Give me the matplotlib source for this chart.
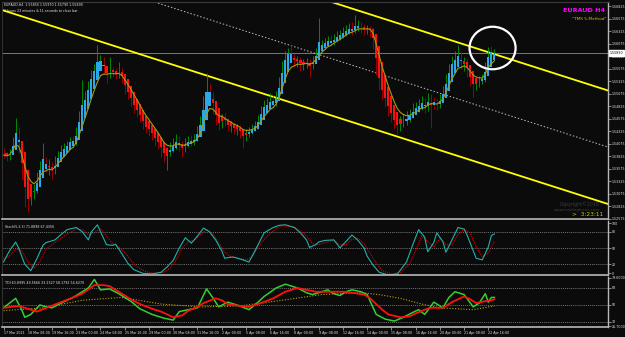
import numpy as np
import pandas as pd
import matplotlib
matplotlib.use("Agg")
import matplotlib.pyplot as plt
import matplotlib.transforms as mtransforms
from matplotlib.patches import Ellipse

# EURAUD H4 bars (open of a bar = close of the previous one)
first_open = 1.5393
closes = [
    1.5385, 1.5379, 1.5391, 1.5415, 1.5435, 1.5395, 1.5345, 1.5305, 1.5295, 1.5305,
    1.5315, 1.5345, 1.5365, 1.5375, 1.5359, 1.5365, 1.5351, 1.5375, 1.5385, 1.5395,
    1.5399, 1.5405, 1.5415, 1.5411, 1.5435, 1.5465, 1.5485, 1.5505, 1.5525, 1.5545,
    1.5559, 1.5571, 1.5575, 1.5555, 1.5545, 1.5551, 1.5549, 1.5545, 1.5551, 1.5535,
    1.5515, 1.5505, 1.5491, 1.5479, 1.5471, 1.5459, 1.5445, 1.5439, 1.5435, 1.5425,
    1.5415, 1.5409, 1.5395, 1.5385, 1.5391, 1.5399, 1.5405, 1.5415, 1.5405, 1.5399,
    1.5409, 1.5415, 1.5411, 1.5419, 1.5435, 1.5455, 1.5495, 1.5515, 1.5505, 1.5475,
    1.5455, 1.5445, 1.5459, 1.5451, 1.5441, 1.5445, 1.5435, 1.5439, 1.5431, 1.5425,
    1.5429, 1.5435, 1.5439, 1.5445, 1.5459, 1.5475, 1.5485, 1.5485, 1.5495, 1.5489,
    1.5505, 1.5535, 1.5565, 1.5585, 1.5591, 1.5579, 1.5571, 1.5575, 1.5565, 1.5569,
    1.5571, 1.5563, 1.5575, 1.5591, 1.5605, 1.5605, 1.5611, 1.5615, 1.5611, 1.5619,
    1.5623, 1.5625, 1.5631, 1.5635, 1.5639, 1.5635, 1.5641, 1.5645, 1.5639, 1.5635,
    1.5639, 1.5635, 1.5605, 1.5555, 1.5525, 1.5505, 1.5495, 1.5475, 1.5465, 1.5451,
    1.5445, 1.5451, 1.5455, 1.5459, 1.5465, 1.5475, 1.5479, 1.5485, 1.5491, 1.5479,
    1.5499, 1.5495, 1.5487, 1.5485, 1.5499, 1.5515, 1.5539, 1.5559, 1.5571, 1.5575,
    1.5585, 1.5565, 1.5571, 1.5551, 1.5535, 1.5525, 1.5531, 1.5535, 1.5539, 1.5565,
    1.5595, 1.5585, 1.5589,
]
highs = [
    1.5399, 1.5391, 1.5397, 1.5421, 1.5459, 1.5441, 1.5401, 1.5351, 1.5317, 1.5319,
    1.5327, 1.5351, 1.5373, 1.5409, 1.5381, 1.5377, 1.5371, 1.5383, 1.5393, 1.5405,
    1.5409, 1.5413, 1.5421, 1.5423, 1.5441, 1.5473, 1.5535, 1.5513, 1.5533, 1.5555,
    1.5567, 1.5605, 1.5585, 1.5581, 1.5563, 1.5581, 1.5561, 1.5559, 1.5571, 1.5559,
    1.5543, 1.5525, 1.5513, 1.5499, 1.5489, 1.5479, 1.5467, 1.5455, 1.5451, 1.5443,
    1.5433, 1.5427, 1.5417, 1.5405, 1.5401, 1.5411, 1.5419, 1.5427, 1.5423, 1.5413,
    1.5419, 1.5423, 1.5425, 1.5427, 1.5443, 1.5463, 1.5503, 1.5549, 1.5527, 1.5511,
    1.5481, 1.5463, 1.5467, 1.5469, 1.5457, 1.5453, 1.5451, 1.5447, 1.5445, 1.5437,
    1.5437, 1.5441, 1.5447, 1.5453, 1.5465, 1.5483, 1.5495, 1.5499, 1.5509, 1.5503,
    1.5513, 1.5541, 1.5573, 1.5593, 1.5599, 1.5605, 1.5587, 1.5583, 1.5581, 1.5577,
    1.5579, 1.5577, 1.5583, 1.5599, 1.5659, 1.5615, 1.5619, 1.5623, 1.5625, 1.5627,
    1.5633, 1.5635, 1.5641, 1.5645, 1.5649, 1.5651, 1.5665, 1.5655, 1.5651, 1.5647,
    1.5645, 1.5643, 1.5641, 1.5611, 1.5561, 1.5533, 1.5513, 1.5501, 1.5483, 1.5471,
    1.5459, 1.5463, 1.5467, 1.5473, 1.5477, 1.5489, 1.5491, 1.5497, 1.5503, 1.5499,
    1.5509, 1.5507, 1.5501, 1.5497, 1.5507, 1.5523, 1.5547, 1.5567, 1.5583, 1.5593,
    1.5605, 1.5591, 1.5581, 1.5577, 1.5557, 1.5543, 1.5539, 1.5543, 1.5547, 1.5571,
    1.5601, 1.5603, 1.5597,
]
lows = [
    1.5379, 1.5373, 1.5375, 1.5387, 1.5409, 1.5389, 1.5337, 1.5281, 1.5271, 1.5285,
    1.5297, 1.5309, 1.5339, 1.5359, 1.5351, 1.5345, 1.5337, 1.5347, 1.5365, 1.5379,
    1.5387, 1.5391, 1.5399, 1.5403, 1.5405, 1.5429, 1.5459, 1.5477, 1.5497, 1.5519,
    1.5537, 1.5551, 1.5561, 1.5547, 1.5529, 1.5539, 1.5541, 1.5537, 1.5539, 1.5529,
    1.5507, 1.5497, 1.5483, 1.5469, 1.5461, 1.5451, 1.5437, 1.5429, 1.5423, 1.5415,
    1.5403, 1.5397, 1.5381, 1.5371, 1.5355, 1.5383, 1.5391, 1.5397, 1.5393, 1.5381,
    1.5391, 1.5401, 1.5403, 1.5405, 1.5413, 1.5429, 1.5449, 1.5487, 1.5495, 1.5467,
    1.5445, 1.5435, 1.5439, 1.5443, 1.5433, 1.5431, 1.5427, 1.5425, 1.5419, 1.5399,
    1.5413, 1.5421, 1.5427, 1.5433, 1.5437, 1.5451, 1.5467, 1.5473, 1.5477, 1.5481,
    1.5483, 1.5497, 1.5527, 1.5557, 1.5577, 1.5571, 1.5561, 1.5561, 1.5553, 1.5555,
    1.5559, 1.5541, 1.5557, 1.5569, 1.5585, 1.5595, 1.5597, 1.5603, 1.5603, 1.5605,
    1.5611, 1.5615, 1.5619, 1.5623, 1.5627, 1.5625, 1.5629, 1.5633, 1.5629, 1.5625,
    1.5627, 1.5621, 1.5597, 1.5545, 1.5515, 1.5495, 1.5481, 1.5463, 1.5451, 1.5437,
    1.5425, 1.5433, 1.5441, 1.5445, 1.5451, 1.5459, 1.5467, 1.5471, 1.5475, 1.5469,
    1.5473, 1.5439, 1.5477, 1.5475, 1.5479, 1.5491, 1.5509, 1.5531, 1.5551, 1.5563,
    1.5567, 1.5557, 1.5553, 1.5541, 1.5523, 1.5501, 1.5515, 1.5521, 1.5527, 1.5531,
    1.5559, 1.5577, 1.5579,
]

date_labels = [
    "17 Mar 2021", "18 Mar 08:00", "19 Mar 16:00", "23 Mar 00:00", "24 Mar 08:00",
    "25 Mar 16:00", "29 Mar 00:00", "30 Mar 08:00", "31 Mar 16:00", "2 Apr 00:00",
    "5 Apr 08:00", "6 Apr 16:00", "8 Apr 00:00", "9 Apr 08:00", "12 Apr 16:00",
    "14 Apr 00:00", "15 Apr 08:00", "16 Apr 16:00", "20 Apr 00:00", "21 Apr 08:00",
    "22 Apr 16:00",
]
date_bars = [0, 8, 16, 24, 32, 40, 48, 56, 64, 72, 80, 88, 96, 104, 112, 120, 128,
             136, 144, 152, 160]

price_ticks = [1.56825, 1.56575, 1.56325, 1.56075, 1.55825, 1.55575, 1.55325,
               1.55075, 1.54825, 1.54575, 1.54325, 1.54075, 1.53825, 1.53575,
               1.53325, 1.53075, 1.52825, 1.52575]

# hand drawn channel (bar index, price)
chan_bars = [0, 200]
chan_upper = [1.5901, 1.5513]
chan_mid = [1.57875, 1.5400]
chan_lower = [1.5674, 1.5286]

# Stochastic(5,3,3) main / signal (bar, value)
stoch_k_bars = [0, 2, 4, 5, 7, 9, 11, 13, 14, 17, 19, 21, 24, 26, 28, 29, 31, 32,
                34, 36, 37, 39, 41, 43, 46, 49, 52, 54, 56, 58, 60, 61, 62, 64, 66,
                68, 70, 72, 73, 75, 76, 79, 81, 83, 86, 89, 91, 93, 96, 98, 100, 101,
                103, 104, 106, 109, 110, 111, 113, 115, 117, 119, 120, 122, 124, 127,
                130, 133, 135, 137, 139, 140, 142, 143, 145, 146, 148, 150, 152, 153,
                155, 156, 158, 159, 160, 161, 162]
stoch_k = [24, 45, 61, 50, 20, 8, 30, 55, 60, 65, 75, 84, 88, 80, 65, 80, 93, 80,
           56, 55, 57, 40, 22, 10, 3, 2, 5, 15, 27, 50, 69, 64, 59, 72, 87,
           80, 65, 45, 31, 33, 33, 28, 24, 45, 78, 88, 92, 93, 88, 78, 65, 51,
           56, 61, 64, 65, 58, 50, 62, 74, 64, 50, 35, 18, 5, 0,
           2, 24, 55, 84, 70, 43, 60, 78, 62, 42, 65, 88, 85, 74,
           45, 31, 28, 40, 52, 73, 76]
stoch_d_bars = [0, 2, 4, 6, 8, 10, 12, 14, 17, 19, 21, 24, 26, 28, 30, 32, 34, 36,
                38, 40, 42, 44, 47, 50, 53, 55, 57, 59, 61, 63, 65, 67, 69, 71, 73,
                75, 77, 80, 82, 84, 87, 90, 92, 95, 98, 100, 102, 104, 106, 109, 111,
                113, 115, 117, 119, 121, 123, 125, 128, 131, 134, 136, 138, 140, 142,
                144, 146, 148, 150, 152, 154, 156, 158, 160, 161, 162]
stoch_d = [30, 35, 48, 45, 25, 12, 25, 48, 60, 68, 76, 85, 84, 75, 78, 86, 72, 58,
           52, 42, 28, 15, 6, 3, 5, 13, 28, 50, 62, 64, 75, 84, 76, 60, 42,
           34, 32, 28, 33, 52, 72, 86, 91, 90, 82, 72, 58, 56, 60, 64, 56,
           56, 66, 68, 58, 40, 22, 8, 2, 5, 20, 45, 72, 62, 52,
           68, 56, 56, 75, 85, 78, 52, 34, 40, 52, 62]
stoch_levels = [80, 50, 20]

# TDI lines (bar, value)
tdi_green_bars = [0, 2, 4, 6, 7, 9, 12, 14, 16, 19, 23, 26, 28, 30, 32, 35, 38, 42,
                  45, 49, 53, 56, 58, 61, 64, 67, 69, 71, 74, 78, 81, 84, 86, 90, 93,
                  97, 100, 102, 105, 107, 109, 111, 113, 115, 118, 120, 123, 126, 129,
                  132, 135, 137, 139, 142, 145, 147, 149, 152, 155, 157, 159, 160, 161,
                  162]
tdi_green = [47, 52, 57, 45, 37, 40, 50, 48, 47, 52, 58, 64, 68, 77, 66, 67, 62, 54,
             46, 40, 36, 34, 43, 45, 47, 67, 58, 48, 53, 49, 45, 53, 59, 68, 72,
             68, 63, 61, 64, 66, 62, 60, 64, 66, 64, 61, 40, 35, 33,
             37, 42, 45, 40, 53, 47, 58, 64, 61, 48, 52, 62, 53, 58,
             58]
tdi_red_bars = [0, 5, 8, 11, 15, 19, 23, 26, 30, 33, 35, 39, 42, 45, 49, 52, 56, 59,
                61, 64, 66, 70, 72, 74, 78, 81, 85, 89, 93, 97, 100, 103, 106, 109,
                112, 115, 119, 121, 123, 125, 127, 131, 134, 136, 139, 141, 145, 148,
                152, 154, 156, 159, 161, 162]
tdi_red = [47, 49, 46, 43, 48, 53, 58, 62, 71, 71, 70, 62, 56, 51, 46, 43, 37, 39,
           44, 48, 52, 57, 55, 51, 49, 48, 52, 57, 64, 68, 66, 64, 64, 64,
           64, 63, 61, 57, 51, 45, 40, 37, 38, 41, 45, 47, 47, 53,
           59, 56, 52, 54, 55, 56]
tdi_base_bars = [0, 13, 26, 39, 52, 65, 78, 92, 105, 118, 124, 131, 138, 144, 155, 162]
tdi_base = [44, 47, 55, 58, 51, 48, 49, 55, 61, 63, 61, 57, 51, 47, 45, 49]
tdi_levels = [68, 50, 32]

BG = "#0b0b0b"
AXC = "#b8b8b8"
TXT = "#e6e6e6"
FS = 2.3

c = pd.Series(closes)
h = pd.Series(highs)
l = pd.Series(lows)
o = c.shift(1).fillna(first_open)
x = np.arange(len(c))

# heiken ashi overlay bodies
ha_close = (o + h + l + c) / 4
ha_open = [float((first_open + c[0]) / 2)]
for i in range(1, len(c)):
    ha_open.append((ha_open[-1] + ha_close[i - 1]) / 2)
ha_open = pd.Series(ha_open)

ma = c.ewm(span=6, adjust=False).mean()

W, H = 625.0, 337.0


def box(x0, y0, x1, y1):
    return [x0 / W, 1 - y1 / H, (x1 - x0) / W, (y1 - y0) / H]


fig = plt.figure(figsize=(6.25, 3.37), dpi=100, facecolor=BG)
ax = fig.add_axes(box(2, 2, 608, 219))
ax_st = fig.add_axes(box(2, 221, 608, 275), sharex=ax)
ax_tdi = fig.add_axes(box(2, 277, 608, 327), sharex=ax)

for a in (ax, ax_st, ax_tdi):
    a.set_facecolor(BG)
    a.yaxis.tick_right()
    a.tick_params(axis="y", colors=AXC, labelcolor=TXT, labelsize=FS,
                  length=2, width=0.5, pad=0.8)
    a.spines["left"].set_color("#3a3a3a")
    a.spines["left"].set_linewidth(0.6)
    a.spines["top"].set_visible(False)
    a.spines["right"].set_color(AXC)
    a.spines["bottom"].set_color(AXC)
    a.spines["right"].set_linewidth(1.0)
    a.spines["bottom"].set_linewidth(1.2)
ax.spines["top"].set_visible(True)
ax.spines["top"].set_color("#3a3a3a")
ax.tick_params(axis="x", length=0, labelbottom=False)
ax_st.tick_params(axis="x", length=0, labelbottom=False)

# ---- main panel
ax.set_xlim(-0.5, 199.5)
ax.set_ylim(1.5257, 1.5691)
ax.set_yticks(price_ticks)
ax.set_yticklabels(["%.5f" % p for p in price_ticks])

ax.plot(chan_bars, chan_lower, color="#ffff00", lw=1.3, zorder=2)
ax.plot(chan_bars, chan_upper, color="#ffff00", lw=1.3, zorder=2)
ax.plot(chan_bars, chan_mid, color="#c0c0c0", lw=0.7, ls=(0, (1.5, 2)), zorder=2)

ax.axhline(c.iloc[-1], color="#8a8a8a", lw=0.6, zorder=1)

wick_col = np.where(c >= o, "#00a000", "#b00000")
ax.vlines(x, l, h, colors=wick_col, lw=0.6, zorder=3)
body_col = np.where(ha_close >= ha_open, "#2aa8e8", "#ff1010")
ax.bar(x, ha_close - ha_open, bottom=ha_open, width=0.7, color=body_col,
       lw=0, zorder=4)
ax.plot(x, ma, color="#a89a10", lw=0.8, zorder=5)

ax.add_patch(Ellipse((161.4, 1.5599), 15.2, 0.0085, fill=False,
                     ec="white", lw=1.6, zorder=6))

trans = mtransforms.blended_transform_factory(ax.transAxes, ax.transData)
ax.text(1.003, c.iloc[-1], "%.5f" % c.iloc[-1], transform=trans, fontsize=FS,
        color="black", va="center", ha="left",
        bbox=dict(boxstyle="square,pad=0.2", fc="white", ec="white"))

fig.text(4 / W, 1 - 5.5 / H, "EURAUD,H4  %.5f %.5f %.5f %.5f"
         % (o.iloc[-1], h.iloc[-1], l.iloc[-1], c.iloc[-1]),
         fontsize=FS, color=TXT, va="center")
fig.text(4 / W, 1 - 11 / H, "3 hours 23 minutes & 11 seconds to close bar",
         fontsize=FS, color=TXT, va="center")
fig.text(605 / W, 1 - 10 / H, "EURAUD H4", fontsize=4.6, color="#ff00ff",
         fontweight="bold", ha="right", va="center")
fig.text(606 / W, 1 - 18.5 / H, '"TMS 5-Method"', fontsize=3.1, color="#e0b020",
         ha="right", va="center")
fig.text(600 / W, 1 - 204 / H, "Copyright\u00a92016", fontsize=3.4, color="#3c3c3c",
         ha="right", va="center")
fig.text(600 / W, 1 - 209.5 / H, "www.tradingforex.com", fontsize=3.0,
         color="#3c3c3c", ha="right", va="center")
fig.text(603 / W, 1 - 215 / H, ">  3:23:11", fontsize=4.2, color="#d8c000",
         ha="right", va="center")

# ---- stochastic panel
ax_st.set_ylim(0, 100)
ax_st.set_yticks([96, 80, 50, 20, 3])
ax_st.set_yticklabels(["100", "80", "50", "20", "0"])
for lv in stoch_levels:
    ax_st.axhline(lv, color="#9a9a9a", lw=0.5, ls=(0, (1.5, 1.5)))
ax_st.plot(stoch_d_bars, stoch_d, color="#e00000", lw=0.8, ls=(0, (1, 1)))
ax_st.plot(stoch_k_bars, stoch_k, color="#20b2aa", lw=0.8)
ax_st.text(3 / 606, 0.88, "Stoch(5,3,3) 71.8898 67.4356", transform=ax_st.transAxes,
           fontsize=FS, color=TXT, va="center")

# ---- TDI panel
tdi_lo, tdi_hi = 26.7, 79.6
ax_tdi.set_ylim(tdi_lo, tdi_hi)
ax_tdi.set_yticks([tdi_hi - 0.8, 68, 50, 32, tdi_lo + 0.8])
ax_tdi.set_yticklabels(["%.4f" % tdi_hi, "68", "50", "32", "%.4f" % tdi_lo])
for lv in tdi_levels:
    ax_tdi.axhline(lv, color="#9a9a9a", lw=0.5, ls=(0, (1.5, 1.5)))
ax_tdi.plot(tdi_base_bars, tdi_base, color="#b8a000", lw=0.8, ls=(0, (1, 1.5)))
ax_tdi.plot(tdi_green_bars, tdi_green, color="#30d030", lw=1.1)
ax_tdi.plot(tdi_red_bars, tdi_red, color="#ff1010", lw=1.3)
ax_tdi.text(3 / 606, 0.88, "TDI 63.8995 49.5666 33.2327 58.1792 54.6270",
            transform=ax_tdi.transAxes, fontsize=FS, color=TXT, va="center")

ax_tdi.set_xticks(date_bars)
ax_tdi.set_xticklabels(date_labels, ha="left")
ax_tdi.tick_params(axis="x", colors=AXC, labelcolor=TXT, labelsize=FS,
                   length=2, width=0.5, pad=1.2)

fig.savefig("out.png", dpi=100, facecolor=BG)
